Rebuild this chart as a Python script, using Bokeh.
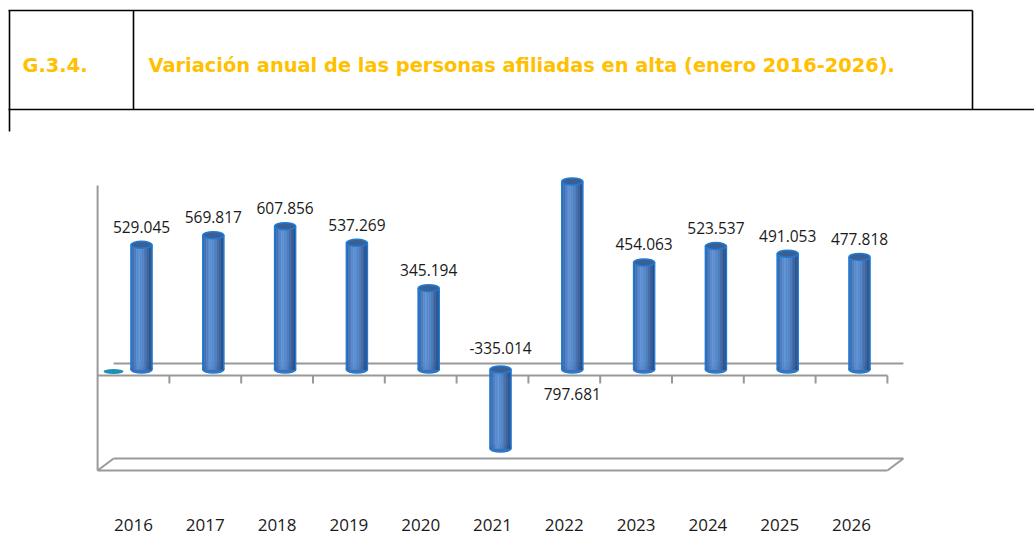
from bokeh.plotting import figure
from bokeh.models import Range1d, ColumnDataSource
from bokeh.embed import file_html
from bokeh.resources import INLINE
from bokeh.core.properties import value

# ---------------- data ----------------
years = ["2016", "2017", "2018", "2019", "2020", "2021", "2022", "2023", "2024", "2025", "2026"]
afiliados = [529045, 569817, 607856, 537269, 345194, -335014, 797681, 454063, 523537, 491053, 477818]
label_place = ["top", "top", "top", "top", "top", "zero", "below", "top", "top", "top", "top"]
code_text = "G.3.4."
title_text = "Variación anual de las personas afiliadas en alta (enero 2016-2026)."

# ---------------- layout constants (pixels) ----------------
W, H = 1034, 538
SLOT = 71.8          # px per category
X0 = 141.0           # px of first bar centre (mid depth)
BASE_PX = 369.0      # px (from top) of value 0 at mid depth
PX_PER_UNIT = 188.0 / 797681.0
DEPTH_X, DEPTH_Y = 8.0, 6.0   # half-depth offset of the 3D box
BW = 21.0 / SLOT     # bar width in category units
DX = DEPTH_X / SLOT

xs = -X0 / SLOT
xe = (W - X0) / SLOT
ys = -(H - BASE_PX) / PX_PER_UNIT
ye = BASE_PX / PX_PER_UNIT

p = figure(width=W, height=H, x_range=Range1d(xs, xe), y_range=Range1d(ys, ye),
           output_backend="svg", toolbar_location=None, min_border=0,
           x_axis_location=None, y_axis_location=None, outline_line_color=None,
           background_fill_color="white", border_fill_color="white")
p.grid.visible = False
p.extra_x_ranges = {"px": Range1d(0, W)}
p.extra_y_ranges = {"px": Range1d(H, 0)}

# ---------------- header table ----------------
HL = "#000000"
p.segment(x0=[8, 8, 9, 133, 972], y0=[10, 109, 10, 10, 10],
          x1=[972, W, 9, 133, 972], y1=[10, 109, 131, 109, 109],
          line_color=HL, line_width=1.6, x_range_name="px", y_range_name="px")
gold = "#FFC000"
p.text(x=[22], y=[65], text=[code_text], text_font=value("DejaVu Sans"), text_font_style="bold",
       text_font_size="19.4px", text_color=gold, text_baseline="middle",
       x_range_name="px", y_range_name="px")
p.text(x=[148], y=[65], text=[title_text], text_font=value("DejaVu Sans"), text_font_style="bold",
       text_font_size="19.4px", text_color=gold, text_baseline="middle",
       x_range_name="px", y_range_name="px")

# ---------------- 3D box frame ----------------
n = len(years)
GRID = "#999999"
zero_front = BASE_PX + DEPTH_Y
zero_back = BASE_PX - DEPTH_Y
floor_front = 470.0
floor_back = floor_front - 2 * DEPTH_Y
left_front = -0.5 - DX
right_front = n - 0.5 - DX
shift = 2 * DX
p.segment(x0=[left_front, left_front + shift, left_front, left_front + shift, left_front, right_front],
          y0=[zero_front, zero_back, floor_front, floor_back, floor_front, floor_front],
          x1=[right_front, right_front + shift, right_front, right_front + shift, left_front + shift, right_front + shift],
          y1=[zero_front, zero_back, floor_front, floor_back, floor_back, floor_back],
          line_color=GRID, line_width=2, y_range_name="px")
p.segment(x0=[left_front], y0=[185], x1=[left_front], y1=[floor_front],
          line_color=GRID, line_width=2, y_range_name="px")
tick_x = [k - 0.5 - DX for k in range(1, n + 1)]
p.segment(x0=tick_x, y0=[zero_front] * n, x1=tick_x, y1=[zero_front + 8] * n,
          line_color=GRID, line_width=2, y_range_name="px")
p.ellipse(x=[113], y=[371], width=20, height=5, fill_color="#1E8FB5", line_color=None,
          x_range_name="px", y_range_name="px")

# ---------------- cylinders ----------------
xs_bar = list(range(n))
tops = [max(v, 0) for v in afiliados]
bots = [min(v, 0) for v in afiliados]
EDGE = "#1F7BD6"

p.ellipse(x=xs_bar, y=bots, width=BW, height=7, height_units="screen",
          fill_color="#3F70B2", line_color=EDGE, line_width=1.5)

stops = [(0.0, (0x30, 0x5E, 0xA0)), (0.35, (0x5E, 0x92, 0xD6)), (0.6, (0x50, 0x82, 0xC4)),
         (1.0, (0x24, 0x45, 0x7A))]


def shade(t):
    for (t0, c0), (t1, c1) in zip(stops[:-1], stops[1:]):
        if t0 <= t <= t1:
            f = (t - t0) / (t1 - t0)
            c = [round(a + (b - a) * f) for a, b in zip(c0, c1)]
            return "#%02x%02x%02x" % tuple(c)
    return "#%02x%02x%02x" % stops[-1][1]


NS = 12
for s in range(NS):
    l_off = -BW / 2 + BW * s / NS
    r_off = -BW / 2 + BW * (s + 1) / NS
    col = shade((s + 0.5) / NS)
    src = ColumnDataSource(dict(left=[x + l_off for x in xs_bar], right=[x + r_off for x in xs_bar],
                                top=tops, bottom=bots))
    p.quad(left="left", right="right", top="top", bottom="bottom", source=src,
           fill_color=col, line_color=col, line_width=0.5)

p.segment(x0=[x - BW / 2 for x in xs_bar], y0=bots, x1=[x - BW / 2 for x in xs_bar], y1=tops,
          line_color=EDGE, line_width=1.5)
p.segment(x0=[x + BW / 2 for x in xs_bar], y0=bots, x1=[x + BW / 2 for x in xs_bar], y1=tops,
          line_color=EDGE, line_width=1.5)
p.ellipse(x=xs_bar, y=tops, width=BW, height=7, height_units="screen",
          fill_color="#3B5F93", line_color=EDGE, line_width=1.5)

# ---------------- data labels ----------------
labels = [f"{v:,}".replace(",", ".") for v in afiliados]
lab_y, lab_off = [], []
for v, place in zip(afiliados, label_place):
    if place == "top":
        lab_y.append(v); lab_off.append(-18)
    elif place == "zero":
        lab_y.append(0); lab_off.append(-22)
    else:
        lab_y.append(0); lab_off.append(24)
p.text(x=xs_bar, y=lab_y, y_offset=lab_off, text=labels, text_font=value("Open Sans"),
       text_font_size="15.5px", text_color="#1a1a1a", text_align="center", text_baseline="middle")

# ---------------- category labels ----------------
p.text(x=[x - DX for x in xs_bar], y=[524] * n, text=years, text_font=value("Open Sans"),
       text_font_size="17px", text_color="#1a1a1a", text_align="center", text_baseline="middle",
       y_range_name="px")

open("out.html", "w").write(file_html(p, INLINE))
